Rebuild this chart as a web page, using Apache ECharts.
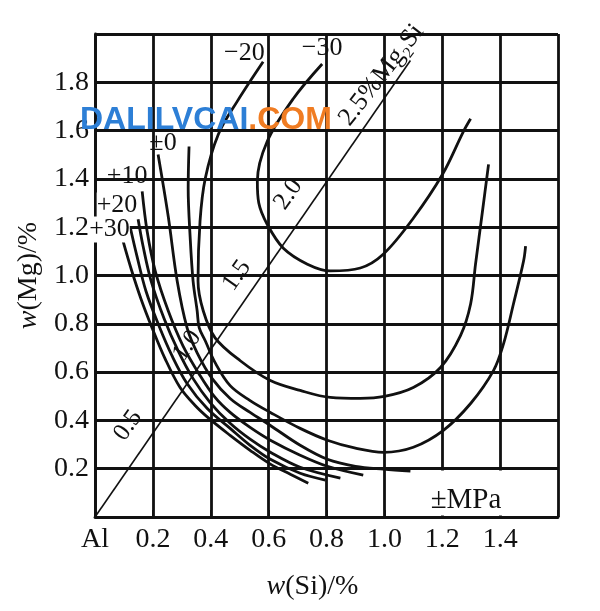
<!DOCTYPE html>
<html>
<head>
<meta charset="utf-8">
<script src="https://cdn.jsdelivr.net/npm/echarts@6/dist/echarts.min.js"></script>
<style>
  html, body { margin: 0; padding: 0; background: #fff; }
  #chart { width: 600px; height: 611px; }
</style>
</head>
<body>
<div id="chart"></div>
<script>
// stress curves, w(Si) / w(Mg) pairs
const curveM30 = [[0.785,1.876],[0.685,1.732],[0.595,1.555],[0.561,1.39],[0.566,1.3],[0.595,1.212],[0.651,1.113],[0.734,1.047],[0.813,1.019],[0.917,1.031],[0.997,1.089],[1.10,1.237],[1.201,1.419],[1.273,1.596],[1.298,1.649]];
const curveM20 = [[0.581,1.885],[0.491,1.72],[0.426,1.584],[0.381,1.402],[0.363,1.225],[0.356,0.977],[0.374,0.854],[0.415,0.742],[0.502,0.647],[0.606,0.565],[0.709,0.524],[0.813,0.495],[0.917,0.491],[1.0,0.499],[1.10,0.536],[1.194,0.619],[1.263,0.751],[1.298,0.882],[1.315,1.047],[1.339,1.266],[1.36,1.46]];
const curveM10 = [[0.325,1.534],[0.322,1.361],[0.329,1.155],[0.339,0.977],[0.353,0.854],[0.36,0.784],[0.381,0.73],[0.415,0.639],[0.467,0.544],[0.536,0.482],[0.606,0.433],[0.709,0.367],[0.803,0.318],[0.9,0.285],[0.997,0.268],[1.10,0.289],[1.204,0.359],[1.298,0.47],[1.377,0.606],[1.412,0.718],[1.446,0.882],[1.481,1.06],[1.488,1.122]];
const curveP0 = [[0.218,1.501],[0.253,1.245],[0.284,0.977],[0.318,0.784],[0.353,0.68],[0.405,0.573],[0.467,0.491],[0.536,0.433],[0.606,0.379],[0.709,0.297],[0.803,0.239],[0.9,0.21],[0.997,0.198],[1.09,0.19]];
const curveP10 = [[0.163,1.348],[0.18,1.184],[0.208,1.019],[0.253,0.854],[0.304,0.709],[0.363,0.586],[0.415,0.495],[0.467,0.433],[0.536,0.371],[0.606,0.318],[0.709,0.256],[0.803,0.21],[0.927,0.173]];
const curveP20 = [[0.149,1.233],[0.166,1.122],[0.194,0.977],[0.239,0.821],[0.287,0.689],[0.339,0.573],[0.398,0.474],[0.467,0.388],[0.536,0.322],[0.606,0.268],[0.709,0.206],[0.848,0.161]];
const curveP25 = [[0.121,1.204],[0.145,1.08],[0.176,0.936],[0.221,0.792],[0.266,0.668],[0.318,0.553],[0.388,0.449],[0.467,0.367],[0.536,0.297],[0.606,0.239],[0.709,0.181],[0.796,0.153]];
const curveP30 = [[0.097,1.142],[0.125,1.027],[0.159,0.903],[0.197,0.784],[0.242,0.656],[0.294,0.536],[0.346,0.462],[0.398,0.404],[0.467,0.338],[0.536,0.276],[0.606,0.219],[0.675,0.177],[0.737,0.14]];

// Mg2Si line and its marks
const mg2siLine = [[0, 0], [1.09, 1.89]];
const mg2siMarkText = ['0.5', '1.0', '1.5', '2.0'];
const mg2siMarkPos = [[0.114,0.379],[0.318,0.709],[0.49,1.0],[0.668,1.336]];

const curveLabelText = ['\u221230', '\u221220', '\u00b10', '+10'];
const curveLabelPos = [[0.785,1.94],[0.516,1.92],[0.235,1.55],[0.111,1.41]];
// these two sit on the left axis line, which is broken behind them
const edgeLabelText = ['+20', '+30'];
const edgeLabelPos = [[0.076,1.29],[0.05,1.19]];

const xTicks = ['Al', '0.2', '0.4', '0.6', '0.8', '1.0', '1.2', '1.4', ''];
const yTicks = ['', '0.2', '0.4', '0.6', '0.8', '1.0', '1.2', '1.4', '1.6', '1.8', ''];

const serif = '"Liberation Serif", "Times New Roman", serif';
const ink = '#111';

let chart = echarts.init(document.getElementById('chart'));

function curve(name, data) {
  return {
    name: name,
    type: 'line',
    data: data,
    smooth: 0.35,
    symbol: 'none',
    lineStyle: { color: ink, width: 2.8 },
    z: 3,
  };
}

function textSeries(name, texts, pos, rotate, size, bg) {
  return {
    name: name,
    type: 'scatter',
    symbolSize: 0,
    clip: false,
    z: 5,
    itemStyle: { opacity: 1, color: ink },
    data: texts.map((t, i) => ({ value: pos[i], label: { formatter: t } })),
    label: {
      show: true,
      position: 'inside',
      rotate: rotate,
      color: ink,
      fontFamily: serif,
      fontSize: size,
      backgroundColor: bg || 'transparent',
    },
  };
}

let options = {
  animation: false,
  backgroundColor: '#fff',
  grid: { left: 95, right: 42, top: 34, bottom: 94 },
  xAxis: {
    type: 'value',
    min: 0,
    max: 1.6,
    interval: 0.2,
    name: '{i|w}(Si)/%',
    nameLocation: 'middle',
    nameGap: 56,
    nameTextStyle: {
      fontFamily: serif, fontSize: 28, color: ink,
      padding: [0, 28, 0, 0],
      rich: { i: { fontFamily: serif, fontSize: 28, fontStyle: 'italic', color: ink } },
    },
    axisLine: { lineStyle: { color: ink, width: 2.8 } },
    axisTick: { inside: true, length: 7, lineStyle: { color: ink, width: 2 } },
    axisLabel: {
      margin: 9,
      fontFamily: serif, fontSize: 28, color: ink,
      formatter: (v) => xTicks[Math.round(v / 0.2)],
    },
    splitLine: { lineStyle: { color: ink, width: 2.8 } },
  },
  yAxis: {
    type: 'value',
    min: 0,
    max: 2.0,
    interval: 0.2,
    name: '{i|w}(Mg)/%',
    nameLocation: 'middle',
    nameGap: 50,
    nameTextStyle: {
      fontFamily: serif, fontSize: 28, color: ink,
      rich: { i: { fontFamily: serif, fontSize: 28, fontStyle: 'italic', color: ink } },
    },
    axisLine: { show: true, lineStyle: { color: ink, width: 2.8 } },
    axisTick: { show: false },
    axisLabel: {
      margin: 6,
      fontFamily: serif, fontSize: 28, color: ink,
      formatter: (v) => yTicks[Math.round(v / 0.2)],
    },
    splitLine: { lineStyle: { color: ink, width: 2.8 } },
  },
  graphic: [
    {
      type: 'text',
      left: 80,
      top: 104,
      z: 100,
      style: {
        text: '{a|DALILVCAI}{b|.COM}',
        rich: {
          a: { fill: '#2d7fd6', fontSize: 32, fontWeight: 'bold', fontFamily: '"Liberation Sans", Arial, sans-serif' },
          b: { fill: '#f07c22', fontSize: 32, fontWeight: 'bold', fontFamily: '"Liberation Sans", Arial, sans-serif' },
        },
      },
    },
  ],
  series: [
    {
      name: 'box',
      type: 'line',
      data: [],
      markArea: {
        silent: true,
        itemStyle: { color: '#fff', opacity: 1 },
        data: [[{ coord: [1.006, 0.006] }, { coord: [1.594, 0.193] }]],
      },
    },
    {
      name: 'Mg2Si',
      type: 'line',
      data: mg2siLine,
      symbol: 'none',
      lineStyle: { color: ink, width: 1.6 },
      z: 3,
    },
    curve('-30', curveM30),
    curve('-20', curveM20),
    curve('-10', curveM10),
    curve('0', curveP0),
    curve('+10', curveP10),
    curve('+20', curveP20),
    curve('+25', curveP25),
    curve('+30', curveP30),
    textSeries('curveLabels', curveLabelText, curveLabelPos, 0, 26),
    textSeries('edgeLabels', edgeLabelText, edgeLabelPos, 0, 26, '#fff'),
    textSeries('mg2siMarks', mg2siMarkText, mg2siMarkPos, 55, 25),
    textSeries('mg2siName', ['2.5%Mg\u2082Si'], [[0.99, 1.83]], 52, 26),
    textSeries('unit', ['\u00b1MPa'], [[1.282, 0.07]], 0, 29),
  ],
};

chart.setOption(options);
</script>
</body>
</html>
